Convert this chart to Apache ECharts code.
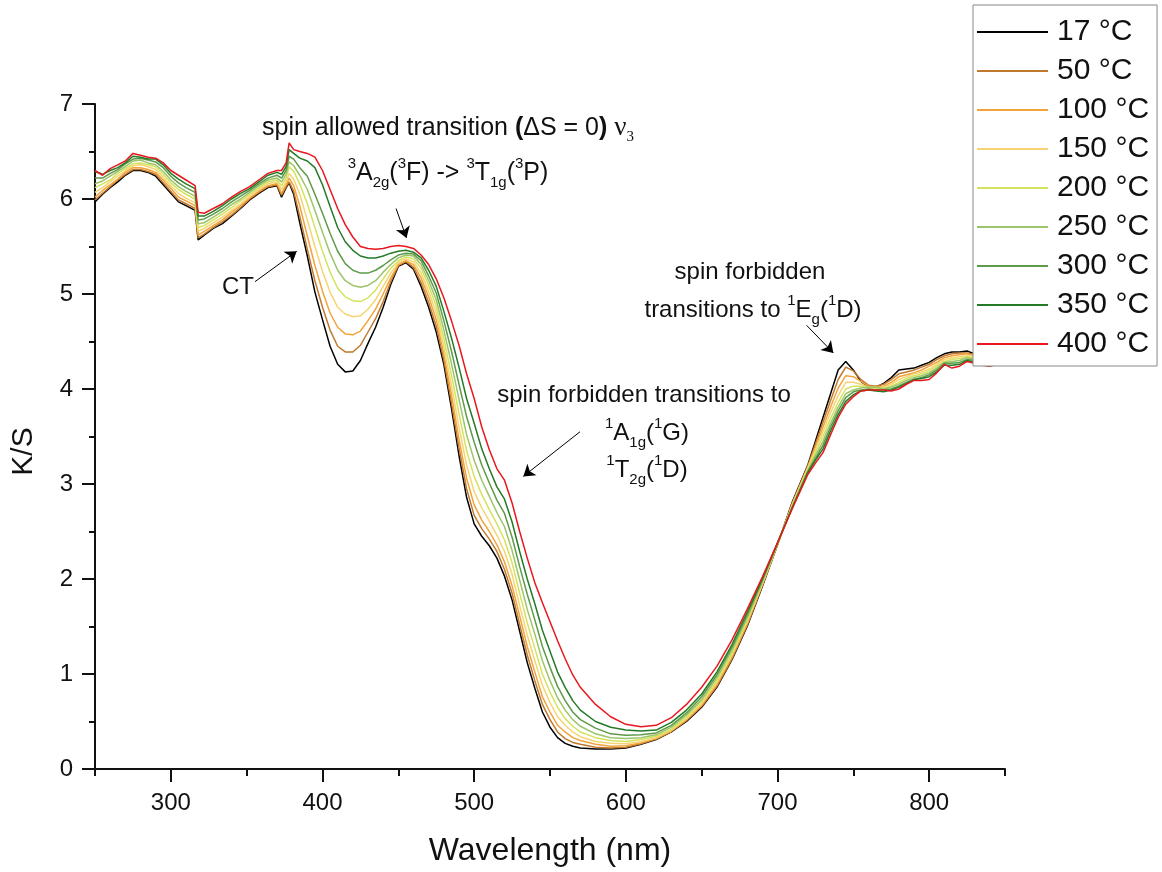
<!DOCTYPE html>
<html>
<head>
<meta charset="utf-8">
<script src="https://cdn.jsdelivr.net/npm/echarts@6/dist/echarts.min.js"></script>
<style>
  html, body { margin: 0; padding: 0; background: #fff; }
  #chart { width: 1162px; height: 872px; }
</style>
</head>
<body>
<div id="chart"></div>
<script>
// wavelength grid (nm)
var wavelength = [250,255,260,265,270,275,280,285,290,295,300,305,310,316,318,322,328,334,340,346,352,358,364,370,373,376,378,381,385,390,395,400,405,410,415,420,425,430,435,440,445,450,455,460,465,470,475,480,485,490,495,500,505,510,515,520,525,530,535,540,545,550,555,560,565,570,580,590,600,610,620,630,640,650,660,670,680,690,700,710,720,725,730,735,740,745,750,755,760,765,770,775,780,785,790,795,800,805,810,815,820,825,830,835,840,845,850]

// K/S, one array per temperature
var ks17 = [5.97,6.05,6.12,6.18,6.25,6.30,6.30,6.28,6.24,6.15,6.06,5.97,5.93,5.88,
  5.57,5.62,5.69,5.74,5.82,5.90,5.99,6.06,6.12,6.14,
  6.02,6.12,6.17,6.05,5.75,
  5.40,5.02,4.73,4.45,4.26,4.18,4.19,4.30,4.48,4.65,4.86,5.10,5.29,5.33,5.26,5.08,4.86,4.60,4.26,3.80,3.30,2.86,2.58,2.45,2.35,2.22,2.03,1.78,1.45,1.12,0.85,0.60,0.44,0.33,0.27,0.24,0.22,
  0.21,0.21,0.22,0.26,0.31,0.39,0.50,0.65,0.86,1.15,1.50,1.92,2.36,
  2.82,3.20,
  3.45,3.70,3.95,4.20,4.29,4.20,4.08,4.02,4.02,4.06,4.12,4.20,4.21,4.22,4.25,4.28,4.33,4.37,4.39,4.39,4.40,4.37,4.36,4.38,4.35,4.37]
var ks50 = [5.99,6.06,6.13,6.20,6.26,6.31,6.31,6.29,6.26,6.17,6.08,5.99,5.95,5.90,
  5.59,5.63,5.70,5.76,5.83,5.91,6.00,6.07,6.13,6.15,
  6.04,6.13,6.18,6.08,5.82,
  5.47,5.14,4.86,4.62,4.45,4.39,4.39,4.46,4.60,4.74,4.92,5.13,5.30,5.34,5.28,5.12,4.91,4.66,4.31,3.86,3.38,2.95,2.67,2.53,2.42,2.29,2.10,1.85,1.52,1.20,0.93,0.68,0.52,0.39,0.32,0.28,0.26,
  0.23,0.22,0.23,0.265,0.315,0.395,0.51,0.66,0.87,1.16,1.51,1.93,2.36,
  2.81,3.19,
  3.42,3.65,3.88,4.10,4.23,4.19,4.10,4.04,4.03,4.05,4.10,4.16,4.18,4.20,4.23,4.26,4.31,4.35,4.37,4.38,4.38,4.36,4.36,4.37,4.35,4.36]
var ks100 = [6.02,6.09,6.15,6.21,6.28,6.33,6.33,6.31,6.28,6.20,6.11,6.02,5.98,5.93,
  5.62,5.66,5.72,5.78,5.86,5.93,6.01,6.08,6.14,6.16,
  6.06,6.15,6.22,6.14,5.93,
  5.61,5.30,5.03,4.80,4.65,4.58,4.57,4.61,4.72,4.84,5.00,5.17,5.31,5.35,5.31,5.17,4.97,4.73,4.37,3.94,3.47,3.06,2.78,2.62,2.50,2.36,2.18,1.93,1.61,1.29,1.02,0.76,0.60,0.46,0.39,0.33,0.30,
  0.26,0.24,0.245,0.275,0.32,0.40,0.52,0.67,0.89,1.18,1.53,1.94,2.36,
  2.80,3.18,
  3.39,3.60,3.81,4.01,4.14,4.13,4.08,4.03,4.02,4.03,4.07,4.13,4.15,4.17,4.20,4.24,4.28,4.33,4.35,4.36,4.37,4.35,4.35,4.35,4.34,4.35]
var ks150 = [6.07,6.12,6.18,6.24,6.30,6.35,6.36,6.34,6.31,6.23,6.14,6.06,6.01,5.96,
  5.66,5.69,5.75,5.81,5.88,5.95,6.03,6.10,6.16,6.18,
  6.10,6.18,6.27,6.21,6.05,
  5.78,5.50,5.24,5.02,4.86,4.79,4.76,4.77,4.84,4.94,5.08,5.22,5.33,5.37,5.34,5.22,5.03,4.80,4.44,4.04,3.60,3.20,2.92,2.75,2.61,2.46,2.29,2.05,1.72,1.41,1.14,0.88,0.70,0.55,0.46,0.39,0.34,
  0.29,0.27,0.265,0.29,0.33,0.41,0.53,0.69,0.91,1.20,1.55,1.95,2.37,
  2.79,3.17,
  3.36,3.55,3.75,3.93,4.07,4.07,4.05,4.02,4.01,4.02,4.05,4.10,4.13,4.16,4.18,4.21,4.26,4.31,4.33,4.34,4.35,4.34,4.33,4.33,4.33,4.34]
var ks200 = [6.12,6.16,6.20,6.27,6.32,6.37,6.38,6.36,6.34,6.26,6.17,6.10,6.05,6.00,
  5.70,5.72,5.78,5.84,5.91,5.98,6.05,6.12,6.18,6.20,
  6.14,6.22,6.34,6.29,6.16,
  5.95,5.70,5.45,5.23,5.06,4.97,4.93,4.92,4.96,5.04,5.16,5.27,5.35,5.39,5.37,5.27,5.09,4.87,4.53,4.15,3.74,3.35,3.08,2.89,2.73,2.58,2.41,2.17,1.85,1.54,1.27,1.00,0.81,0.65,0.53,0.45,0.39,
  0.33,0.30,0.29,0.31,0.345,0.42,0.55,0.71,0.93,1.22,1.57,1.96,2.37,
  2.78,3.15,
  3.33,3.50,3.69,3.86,4.00,4.03,4.03,4.01,4.00,4.01,4.03,4.07,4.11,4.14,4.16,4.19,4.24,4.29,4.31,4.32,4.34,4.32,4.31,4.31,4.31,4.32]
var ks250 = [6.16,6.19,6.24,6.29,6.34,6.40,6.41,6.38,6.36,6.29,6.20,6.13,6.08,6.03,
  5.74,5.75,5.81,5.87,5.94,6.00,6.07,6.14,6.20,6.22,
  6.18,6.26,6.39,6.35,6.25,
  6.10,5.88,5.65,5.43,5.25,5.14,5.09,5.07,5.09,5.14,5.23,5.31,5.38,5.41,5.40,5.31,5.14,4.94,4.62,4.27,3.89,3.52,3.25,3.04,2.87,2.70,2.55,2.30,1.99,1.68,1.42,1.14,0.93,0.75,0.62,0.52,0.45,
  0.37,0.33,0.32,0.33,0.36,0.44,0.57,0.73,0.96,1.25,1.59,1.97,2.37,
  2.77,3.14,
  3.30,3.45,3.64,3.81,3.95,3.99,4.01,4.02,4.02,4.00,4.02,4.05,4.09,4.12,4.14,4.17,4.22,4.28,4.29,4.30,4.33,4.31,4.30,4.29,4.30,4.31]
var ks300 = [6.22,6.22,6.27,6.31,6.37,6.42,6.43,6.41,6.39,6.33,6.24,6.17,6.12,6.07,
  5.78,5.79,5.84,5.90,5.97,6.03,6.09,6.16,6.22,6.25,
  6.22,6.30,6.45,6.42,6.33,
  6.24,6.05,5.85,5.64,5.45,5.32,5.25,5.22,5.22,5.25,5.30,5.36,5.41,5.43,5.42,5.35,5.19,5.01,4.72,4.40,4.05,3.71,3.44,3.20,3.01,2.83,2.69,2.44,2.13,1.84,1.57,1.29,1.07,0.87,0.72,0.60,0.52,
  0.43,0.37,0.355,0.36,0.38,0.46,0.59,0.76,0.99,1.28,1.62,1.99,2.38,
  2.76,3.13,
  3.27,3.41,3.60,3.77,3.91,3.97,3.99,4.00,3.99,3.99,4.00,4.03,4.07,4.10,4.12,4.15,4.20,4.27,4.27,4.28,4.31,4.30,4.28,4.28,4.29,4.30]
var ks350 = [6.29,6.26,6.30,6.33,6.38,6.45,6.44,6.42,6.42,6.36,6.27,6.21,6.16,6.11,
  5.82,5.82,5.87,5.93,6.00,6.06,6.11,6.18,6.25,6.28,
  6.26,6.34,6.52,6.48,6.43,
  6.40,6.33,6.15,5.92,5.70,5.55,5.46,5.40,5.38,5.38,5.40,5.43,5.45,5.46,5.44,5.38,5.25,5.08,4.82,4.54,4.23,3.90,3.64,3.37,3.16,2.97,2.84,2.60,2.29,2.00,1.74,1.46,1.24,1.02,0.86,0.72,0.62,
  0.50,0.44,0.41,0.40,0.41,0.49,0.62,0.79,1.02,1.31,1.65,2.00,2.38,
  2.76,3.12,
  3.25,3.37,3.56,3.73,3.87,3.94,3.98,3.99,3.98,3.97,3.99,4.02,4.06,4.10,4.11,4.13,4.18,4.25,4.25,4.26,4.30,4.28,4.27,4.26,4.28,4.29]
var ks400 = [6.30,6.25,6.32,6.36,6.40,6.48,6.46,6.44,6.43,6.38,6.30,6.25,6.20,6.14,
  5.86,5.85,5.90,5.95,6.02,6.08,6.13,6.20,6.27,6.30,
  6.30,6.38,6.59,6.52,6.50,
  6.48,6.44,6.30,6.10,5.90,5.73,5.60,5.50,5.48,5.47,5.48,5.50,5.51,5.50,5.48,5.41,5.31,5.16,4.96,4.72,4.46,4.16,3.90,3.60,3.36,3.16,3.04,2.80,2.50,2.22,1.96,1.75,1.55,1.35,1.16,0.99,0.86,
  0.68,0.55,0.47,0.445,0.46,0.54,0.68,0.86,1.08,1.36,1.68,2.02,2.38,
  2.75,3.10,
  3.22,3.33,3.52,3.70,3.84,3.92,3.98,3.99,3.99,3.99,3.98,4.00,4.05,4.09,4.09,4.10,4.17,4.26,4.22,4.24,4.29,4.27,4.25,4.24,4.26,4.28]

var temps = ['17 °C', '50 °C', '100 °C', '150 °C', '200 °C', '250 °C', '300 °C', '350 °C', '400 °C']
var curves = [ks17, ks50, ks100, ks150, ks200, ks250, ks300, ks350, ks400]

// tick values
var majorTicks = [300, 400, 500, 600, 700, 800]
var minorTicks = [250, 350, 450, 550, 650, 750, 850]

// annotation arrows [from, to] in (nm, K/S)
var arrows = [
  [[355.5, 5.13], [383, 5.45]],
  [[448.5, 5.9], [455.4, 5.59]],
  [[569.8, 3.55], [532.4, 3.08]],
  [[719.2, 4.67], [736.8, 4.38]]
]

var myChart = echarts.init(document.getElementById('chart'))

var FONT = "'Liberation Sans', Arial, sans-serif"
var INK = '#111'
var lineColors = ['#000000', '#c0792f', '#f2a33a', '#f7d473', '#d4e35c', '#9cc46a', '#5e9a48', '#247a26', '#e8181e']

var series = curves.map(function (vals, i) {
  return {
    name: temps[i],
    type: 'line',
    symbol: 'none',
    data: vals.map(function (v, j) { return [wavelength[j], v] }),
    lineStyle: { width: 1.5, color: lineColors[i] },
    itemStyle: { color: lineColors[i] },
    emphasis: { disabled: true },
    z: 2 + i
  }
})

// arrows go on the last series
series[series.length - 1].markLine = {
  silent: true,
  animation: false,
  symbol: ['none', 'arrow'],
  symbolSize: 11,
  label: { show: false },
  lineStyle: { color: '#000', width: 1, type: 'solid' },
  emphasis: { disabled: true },
  data: arrows.map(function (a) {
    return [{ coord: a[0] }, { coord: a[1] }]
  })
}

var supSub = {
  sup: { fontSize: 15, lineHeight: 12, verticalAlign: 'top', fontFamily: FONT, fill: INK },
  sub: { fontSize: 15, lineHeight: 12, verticalAlign: 'bottom', fontFamily: FONT, fill: INK },
  b: { fontWeight: 'bold', fontSize: 25, fontFamily: FONT, fill: INK },
  nu: { fontSize: 27, fontFamily: "'Liberation Serif', serif", fill: INK },
  nsub: { fontSize: 15, lineHeight: 12, verticalAlign: 'bottom', fontFamily: "'Liberation Serif', serif", fill: INK }
}

function note(x, y, text, size) {
  return {
    type: 'text',
    x: x,
    y: y,
    z: 100,
    style: {
      text: text,
      fontSize: size || 24,
      fontFamily: FONT,
      fill: INK,
      lineHeight: 34,
      align: 'center',
      verticalAlign: 'middle',
      rich: supSub
    }
  }
}

var option = {
  animation: false,
  backgroundColor: '#fff',
  grid: { left: 95, right: 157, top: 104, bottom: 103 },
  legend: {
    orient: 'vertical',
    left: 973,
    top: 5,
    data: temps,
    icon: 'rect',
    itemWidth: 71,
    itemHeight: 2,
    itemGap: 9,
    padding: [12, 8, 7, 4],
    borderColor: '#888',
    borderWidth: 1,
    backgroundColor: '#fff',
    z: 50,
    selectedMode: false,
    textStyle: { fontSize: 30, lineHeight: 30, color: INK, fontFamily: FONT, padding: [0, 0, 0, 4] }
  },
  xAxis: [
    {
      type: 'value',
      min: 250,
      max: 850,
      position: 'bottom',
      name: 'Wavelength (nm)',
      nameLocation: 'middle',
      nameGap: 66,
      nameTextStyle: { fontSize: 32, color: INK, fontFamily: FONT },
      axisLine: { onZero: false, lineStyle: { color: INK, width: 2 } },
      axisTick: { customValues: majorTicks, length: 13, lineStyle: { color: INK, width: 2 } },
      axisLabel: { customValues: majorTicks, fontSize: 24, margin: 22, color: INK, fontFamily: FONT },
      splitLine: { show: false }
    },
    {
      type: 'value',
      min: 250,
      max: 850,
      position: 'bottom',
      axisLine: { show: false, onZero: false },
      axisTick: { customValues: minorTicks, length: 7, lineStyle: { color: INK, width: 2 } },
      axisLabel: { show: false },
      splitLine: { show: false }
    }
  ],
  yAxis: {
    type: 'value',
    min: 0,
    max: 7,
    interval: 1,
    name: 'K/S',
    nameLocation: 'middle',
    nameGap: 56,
    nameTextStyle: { fontSize: 30, color: INK, fontFamily: FONT, padding: [0, 30, 0, 0] },
    axisLine: { show: true, lineStyle: { color: INK, width: 2 } },
    axisTick: { show: true, length: 13, lineStyle: { color: INK, width: 2 } },
    minorTick: { show: true, splitNumber: 2, length: 6, lineStyle: { color: INK, width: 2 } },
    axisLabel: { fontSize: 24, margin: 22, color: INK, fontFamily: FONT },
    splitLine: { show: false },
    minorSplitLine: { show: false }
  },
  graphic: [
    note(448, 128, 'spin allowed transition {b|(}ΔS = 0{b|)} {nu|ν}{nsub|3}', 25),
    note(448, 173, '{sup|3}A{sub|2g}({sup|3}F) -> {sup|3}T{sub|1g}({sup|3}P)', 25),
    note(238, 287, 'CT'),
    note(644, 395, 'spin forbidden transitions to'),
    note(647, 433, '{sup|1}A{sub|1g}({sup|1}G)'),
    note(647, 470, '{sup|1}T{sub|2g}({sup|1}D)'),
    note(750, 272, 'spin forbidden'),
    note(753, 310, 'transitions to {sup|1}E{sub|g}({sup|1}D)')
  ],
  series: series
}

myChart.setOption(option)
</script>
</body>
</html>
